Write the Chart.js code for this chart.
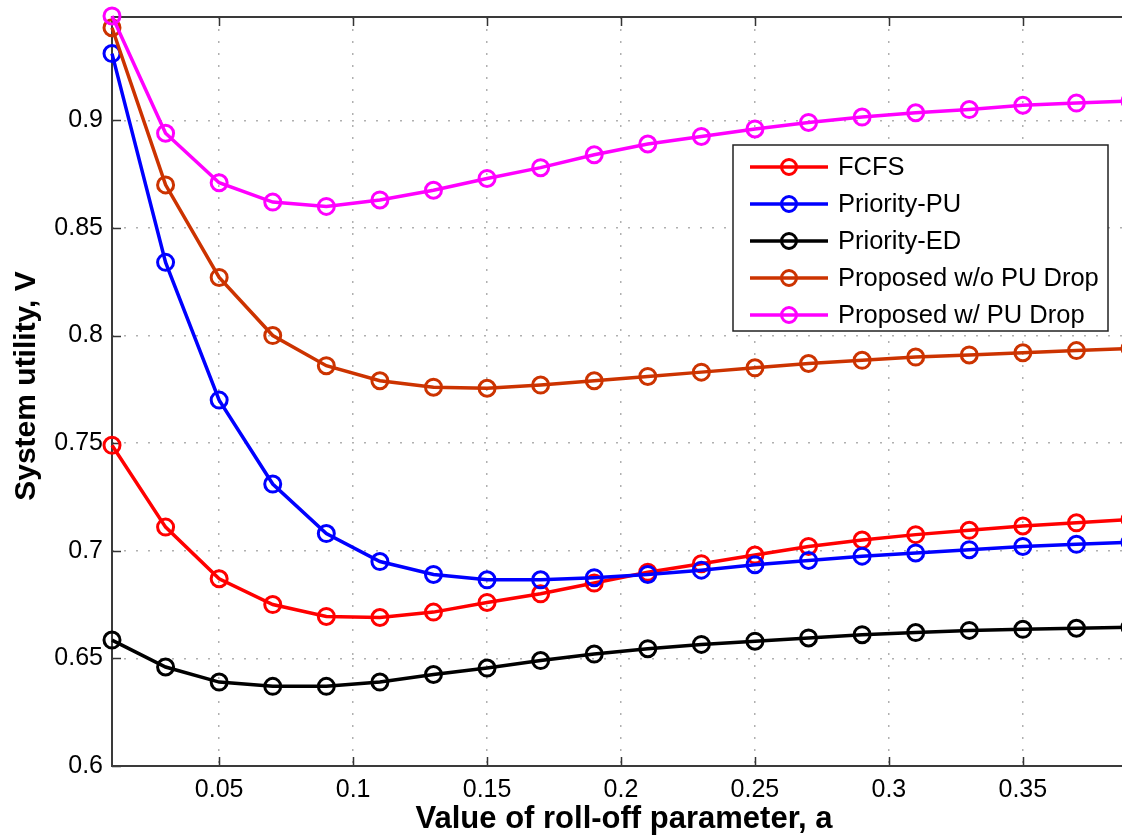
<!DOCTYPE html>
<html>
<head>
<meta charset="utf-8">
<title>System utility vs roll-off parameter</title>
<script src="https://cdn.jsdelivr.net/npm/chart.js@4.4.1/dist/chart.umd.min.js"></script>
<style>
  html, body { margin: 0; padding: 0; overflow: hidden; background: #fff; }
  #wrap { position: absolute; left: 0; top: 0; width: 1132px; height: 836px; }
</style>
</head>
<body>
<div id="wrap"><canvas id="myChart" width="1132" height="836"></canvas></div>
<script>
// roll-off parameter values (x)
const rollOff = [0.01, 0.03, 0.05, 0.07, 0.09, 0.11, 0.13, 0.15, 0.17, 0.19,
                 0.21, 0.23, 0.25, 0.27, 0.29, 0.31, 0.33, 0.35, 0.37, 0.39];

// system utility per scheme
const fcfs = [0.749, 0.711, 0.687, 0.675, 0.6695, 0.669, 0.6715, 0.676, 0.680, 0.685,
              0.690, 0.694, 0.698, 0.702, 0.705, 0.7075, 0.7095, 0.7115, 0.713, 0.7145];
const priorityPU = [0.931, 0.834, 0.770, 0.731, 0.708, 0.695, 0.689, 0.6865, 0.6865, 0.6875,
                    0.689, 0.691, 0.6935, 0.6955, 0.6975, 0.699, 0.7005, 0.702, 0.703, 0.704];
const priorityED = [0.6585, 0.646, 0.639, 0.637, 0.637, 0.639, 0.6425, 0.6455, 0.649, 0.652,
                    0.6545, 0.6565, 0.658, 0.6595, 0.661, 0.662, 0.663, 0.6635, 0.664, 0.6645];
const proposedNoDrop = [0.943, 0.870, 0.827, 0.800, 0.786, 0.779, 0.776, 0.7755, 0.777, 0.779,
                        0.781, 0.783, 0.785, 0.787, 0.7885, 0.790, 0.791, 0.792, 0.793, 0.794];
const proposedDrop = [0.9485, 0.894, 0.871, 0.862, 0.860, 0.863, 0.8675, 0.873, 0.878, 0.884,
                      0.889, 0.8925, 0.896, 0.899, 0.9015, 0.9035, 0.905, 0.907, 0.908, 0.909];

const seriesNames = ['FCFS', 'Priority-PU', 'Priority-ED', 'Proposed w/o PU Drop', 'Proposed w/ PU Drop'];
const seriesColors = ['#ff0000', '#0000ff', '#000000', '#cc3300', '#ff00ff'];

// tick labels
const xTicks = [0.05, 0.1, 0.15, 0.2, 0.25, 0.3, 0.35];
const yTicks = [0.6, 0.65, 0.7, 0.75, 0.8, 0.85, 0.9];

const FONT = '"Liberation Sans", Arial, Helvetica, sans-serif';

function toPoints(values) {
  return rollOff.map((x, i) => ({ x: x, y: values[i] }));
}

const allSeries = [fcfs, priorityPU, priorityED, proposedNoDrop, proposedDrop];

const datasets = allSeries.map((vals, i) => ({
  label: seriesNames[i],
  data: toPoints(vals),
  borderColor: seriesColors[i],
  borderWidth: 3.5,
  pointRadius: 8,
  pointHoverRadius: 8,
  pointBorderWidth: 3,
  pointBorderColor: seriesColors[i],
  pointBackgroundColor: 'rgba(0,0,0,0)',
  tension: 0,
  fill: false,
  clip: false,
  order: allSeries.length - i   // later series painted on top, like matlab
}));

// frame, inward ticks, axis titles and the boxed legend
const matlabLook = {
  id: 'matlabLook',
  beforeDatasetsDraw(chart) {
    const ctx = chart.ctx;
    const a = chart.chartArea;
    const xs = chart.scales.x, ys = chart.scales.y;
    ctx.save();
    ctx.strokeStyle = '#333';
    ctx.lineWidth = 1.5;
    ctx.beginPath();
    xTicks.forEach(v => {
      const px = Math.round(xs.getPixelForValue(v)) + 0.5;
      ctx.moveTo(px, a.bottom); ctx.lineTo(px, a.bottom - 9);
      ctx.moveTo(px, a.top); ctx.lineTo(px, a.top + 9);
    });
    yTicks.forEach(v => {
      const py = Math.round(ys.getPixelForValue(v)) + 0.5;
      ctx.moveTo(a.left, py); ctx.lineTo(a.left + 9, py);
    });
    ctx.stroke();
    ctx.strokeStyle = '#3a3a3a';
    ctx.lineWidth = 2;
    ctx.beginPath();
    ctx.moveTo(a.right, a.top);
    ctx.lineTo(a.left, a.top);
    ctx.lineTo(a.left, a.bottom);
    ctx.lineTo(a.right, a.bottom);
    ctx.stroke();
    ctx.restore();
  },
  afterDraw(chart) {
    const ctx = chart.ctx;
    const a = chart.chartArea;
    ctx.save();
    // axis titles
    ctx.fillStyle = '#000';
    ctx.textAlign = 'center';
    ctx.textBaseline = 'middle';
    ctx.font = 'bold 31px ' + FONT;
    ctx.fillText('Value of roll-off parameter, a', (a.left + a.right) / 2 + 3, 819);
    ctx.font = 'bold 30px ' + FONT;
    ctx.save();
    ctx.translate(27, 386);
    ctx.rotate(-Math.PI / 2);
    ctx.fillText('System utility, V', 0, 0);
    ctx.restore();

    // legend box
    const lx = 733, ly = 145, lw = 375, lh = 186;
    ctx.fillStyle = '#fff';
    ctx.fillRect(lx, ly, lw, lh);
    ctx.strokeStyle = '#222';
    ctx.lineWidth = 1.5;
    ctx.strokeRect(lx, ly, lw, lh);
    ctx.font = '25.5px ' + FONT;
    ctx.textAlign = 'left';
    chart.data.datasets.forEach((ds, i) => {
      const cy = ly + 22 + i * 37;
      ctx.strokeStyle = ds.borderColor;
      ctx.lineWidth = 3.5;
      ctx.beginPath();
      ctx.moveTo(lx + 17, cy);
      ctx.lineTo(lx + 95, cy);
      ctx.stroke();
      ctx.lineWidth = 3;
      ctx.beginPath();
      ctx.arc(lx + 56, cy, 7.5, 0, Math.PI * 2);
      ctx.stroke();
      ctx.fillStyle = '#000';
      ctx.fillText(ds.label, lx + 105, cy + 1);
    });
    ctx.restore();
  }
};

const ctx = document.getElementById('myChart');

new Chart(ctx, {
  type: 'line',
  data: { datasets: datasets },
  options: {
    responsive: false,
    animation: false,
    devicePixelRatio: 1,
    layout: {
      autoPadding: false,
      padding: { top: 17, right: 2, left: 0, bottom: 0 }
    },
    plugins: {
      legend: { display: false },
      tooltip: { enabled: false },
      title: { display: false }
    },
    scales: {
      x: {
        type: 'linear',
        min: 0.01,
        max: 0.39,
        afterBuildTicks: s => { s.ticks = xTicks.map(v => ({ value: v })); },
        afterFit: s => { s.height = 70; s.paddingLeft = 0; s.paddingRight = 0; },
        ticks: {
          color: '#000',
          padding: 9,
          maxRotation: 0,
          autoSkip: false,
          font: { family: FONT, size: 25 },
          callback: v => String(v)
        },
        grid: { color: '#b0b0b0', lineWidth: 1.5, drawTicks: false },
        border: { display: false, dash: [2, 10] }
      },
      y: {
        type: 'linear',
        min: 0.6,
        max: 0.948,
        afterBuildTicks: s => { s.ticks = yTicks.map(v => ({ value: v })); },
        afterFit: s => { s.width = 112; s.paddingTop = 0; s.paddingBottom = 0; },
        ticks: {
          color: '#000',
          padding: 9,
          autoSkip: false,
          font: { family: FONT, size: 25 },
          callback: v => String(v)
        },
        grid: { color: '#b0b0b0', lineWidth: 1.5, drawTicks: false },
        border: { display: false, dash: [2, 10] }
      }
    }
  },
  plugins: [matlabLook]
});
</script>
</body>
</html>
